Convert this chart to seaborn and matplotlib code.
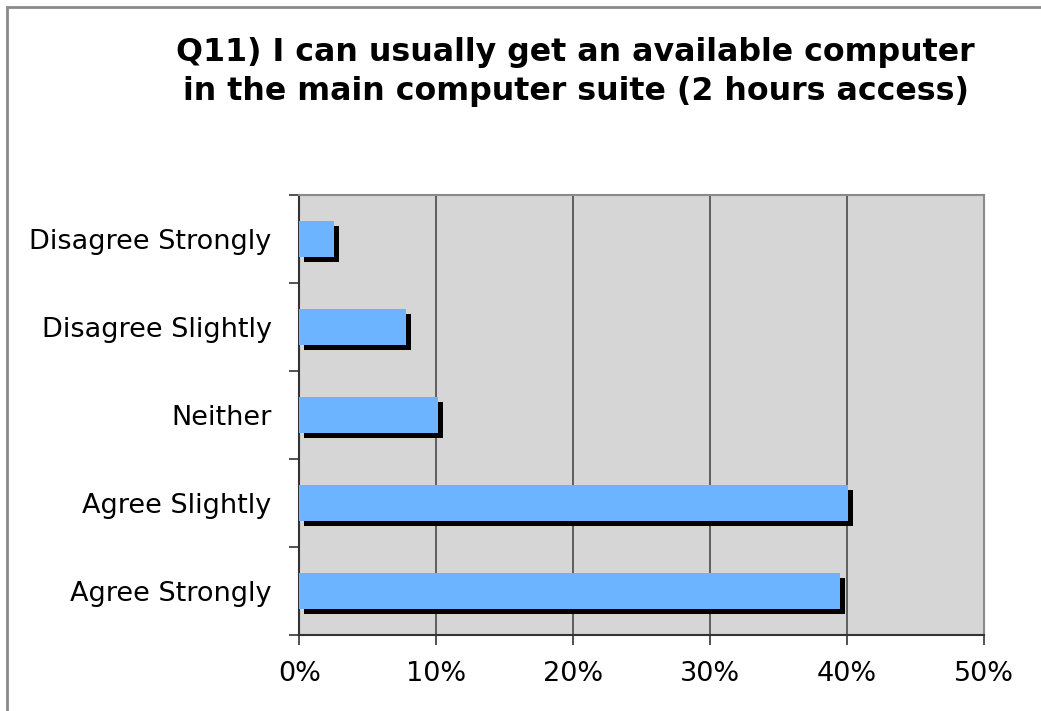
import matplotlib
matplotlib.use("Agg")
import matplotlib.pyplot as plt
import matplotlib.transforms as mtransforms
from matplotlib.patches import Rectangle
import seaborn as sns
import pandas as pd
import numpy as np

categories = ["Disagree Strongly", "Disagree Slightly", "Neither",
              "Agree Slightly", "Agree Strongly"]
percent = [2.5, 7.8, 10.1, 40.1, 39.5]
x_ticks = [0, 10, 20, 30, 40, 50]
x_labels = ["0%", "10%", "20%", "30%", "40%", "50%"]
title = "Q11) I can usually get an available computer\nin the main computer suite (2 hours access)"

sns.set_theme(style="white")
plt.rcParams["font.family"] = ["DejaVu Sans"]
plt.rcParams["text.color"] = "black"
plt.rcParams["xtick.color"] = "black"
plt.rcParams["ytick.color"] = "black"

df = pd.DataFrame({"response": categories, "percent": percent})

fig = plt.figure(figsize=(10.41, 7.11), dpi=100)
ax = fig.add_axes([0.2877, 0.1069, 0.6575, 0.6188])
ax.set_facecolor("#d6d6d6")

# drop shadow bars, shifted right and down
sns.barplot(data=df, x="percent", y="response", order=categories, orient="h",
            color="black", saturation=1, width=0.4, ax=ax, zorder=2)
shift = mtransforms.ScaledTranslation(5 / 100, -5 / 100, fig.dpi_scale_trans)
for p in ax.patches:
    p.set_transform(ax.transData + shift)
    p.set_edgecolor("none")
n_shadow = len(ax.patches)

sns.barplot(data=df, x="percent", y="response", order=categories, orient="h",
            color="#6cb4ff", saturation=1, width=0.4, ax=ax, zorder=3)
for p in ax.patches[n_shadow:]:
    p.set_edgecolor("none")

ax.set_xlim(0, 50)
ax.set_ylim(4.5, -0.5)
ax.set_xlabel("")
ax.set_ylabel("")

# vertical gridlines
for xv in x_ticks[1:-1]:
    ax.axvline(xv, color="#555555", lw=1.3, zorder=1)

ax.set_xticks(x_ticks)
ax.set_xticklabels(x_labels, fontsize=19.5, color="black")
ax.tick_params(axis="x", direction="out", length=7, width=1.2, color="#333333",
               pad=12, bottom=True)
ax.set_yticks(range(len(categories)))
ax.set_yticklabels(categories, fontsize=19.5, color="black")
ax.tick_params(axis="y", which="major", length=0, pad=20)
ax.set_yticks(np.arange(-0.5, len(categories), 1.0), minor=True)
ax.tick_params(axis="y", which="minor", direction="out", length=7, width=1.2,
               color="#333333", left=True)

for side in ["left", "bottom"]:
    ax.spines[side].set_color("#333333")
    ax.spines[side].set_linewidth(1.5)
for side in ["top", "right"]:
    ax.spines[side].set_color("#8a8a8a")
    ax.spines[side].set_linewidth(1.5)

fig.text(0.553, 0.8985, title, ha="center", va="center", fontsize=22.8,
         fontweight="bold", linespacing=1.33, color="black")

# outer chart frame
fig.patches.append(Rectangle((7 / 1041, -0.1), 1.2, 1 - 7 / 711 + 0.1,
                             transform=fig.transFigure, fill=False,
                             edgecolor="#8a8a8a", lw=2))

fig.savefig("out.png", dpi=100)
